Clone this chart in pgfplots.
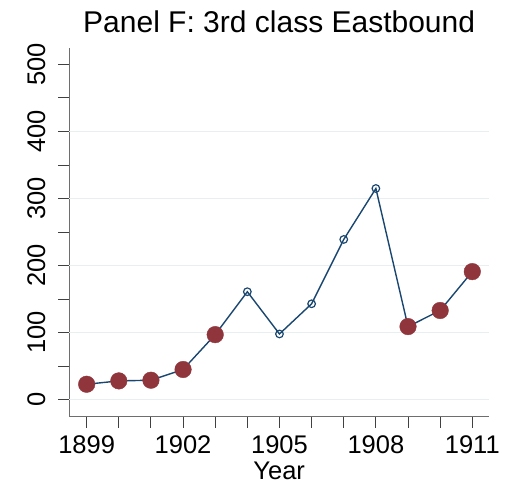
\documentclass[border=0pt]{standalone}
\usepackage{fontspec}
\setmainfont{Liberation Sans}
\usepackage{pgfplots}
\pgfplotsset{compat=1.18}
\definecolor{stnavy}{RGB}{26,71,111}
\definecolor{stmaroon}{RGB}{144,53,59}
\definecolor{gridc}{RGB}{232,239,241}
\definecolor{axc}{RGB}{110,110,110}
\begin{document}
\begin{tikzpicture}
\begin{axis}[
  scale only axis, width=419.7pt, height=369pt,
  xmin=1898.46, xmax=1911.52, ymin=-25.4, ymax=525,
  axis lines*=left,
  axis line style={axc, line width=1.2pt},
  tick align=outside,
  major tick length=11pt, minor tick length=11pt,
  tick style={black!75, line width=1pt},
  xtick={1899,1902,1905,1908,1911}, minor x tick num=2,
  ytick={0,100,200,300,400,500}, minor y tick num=1,
  extra y ticks={0,100,200,300,400},
  extra y tick labels={},
  extra y tick style={grid=major, major grid style={gridc, line width=1.2pt}, major tick length=0pt},
  /pgf/number format/assume math mode=true,
  /pgf/number format/1000 sep={},
  tick label style={font=\fontsize{25.5}{30}\selectfont},
  xticklabel style={anchor=base, inner sep=0pt, yshift=-25.6pt},
  yticklabel style={xshift=-13.3pt, rotate=90, anchor=base, inner sep=0pt},
  title={Panel F: 3rd class Eastbound},
  every axis title/.style={at={(axis description cs:0.5,1)}, anchor=base, yshift=14.7pt, font=\fontsize{30}{36}\selectfont},
  xlabel={Year},
  every axis x label/.style={at={(axis description cs:0.5,0)}, anchor=base, yshift=-63.3pt, font=\fontsize{25.5}{30}\selectfont},
]
\addplot[stnavy, line width=1.4pt] coordinates {
(1899,23) (1900,28) (1901,29) (1902,45) (1903,97) (1904,161) (1905,98)
(1906,143) (1907,239) (1908,315) (1909,109) (1910,133) (1911,191)};
\addplot[only marks, mark=*, mark size=8.3pt, mark options={fill=stmaroon, draw=stmaroon}] coordinates {
(1899,23) (1900,28) (1901,29) (1902,45) (1903,97) (1909,109) (1910,133) (1911,191)};
\addplot[only marks, mark=o, mark size=3.8pt, mark options={draw=stnavy, line width=1.2pt}] coordinates {
(1904,161) (1905,98) (1906,143) (1907,239) (1908,315)};
\end{axis}
\path (current axis.south west) ++(-69.3pt,-72.3pt) rectangle ++(511pt,489pt);
\end{tikzpicture}
\end{document}
